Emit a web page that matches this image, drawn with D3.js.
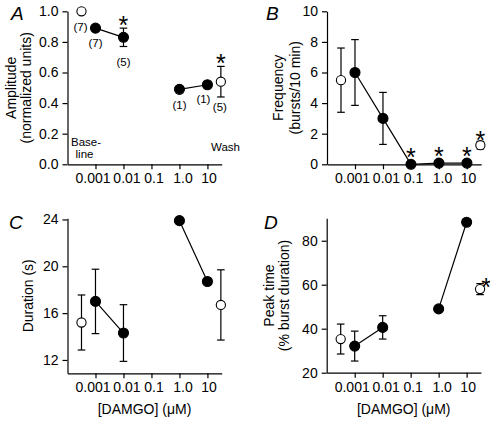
<!DOCTYPE html>
<html><head><meta charset="utf-8">
<script src="https://cdn.jsdelivr.net/npm/d3@7"></script>
<style>
body{margin:0;background:#fff}
text{font-family:"Liberation Sans",Arial,sans-serif;fill:#000}
</style>
</head><body>
<svg id="c" width="490" height="421"></svg>
<script>
// ---- shared x data ----
const drugConc = [0.001, 0.01, 0.1, 1, 10];
const tickLabels = ["0.001", "0.01", "0.1", "1.0", "10"];
const baselineConc = Math.pow(10, -3.5);
const washConc = Math.pow(10, 1.48);

// ---- A: amplitude ----
const ampBase = 1.0, ampBaseErr = 0, ampBaseN = "(7)";
const ampDrug = [0.89, 0.83, null, 0.49, 0.52];
const ampDrugErr = [0, 0.06, 0, 0, 0];
const ampDrugN = ["(7)", "(5)", null, "(1)", "(1)"];
const ampDrugSig = [false, true, false, false, false];
const ampWash = 0.54, ampWashErr = 0.10, ampWashN = "(5)", ampWashSig = true;
const ampTicks = [0, 0.2, 0.4, 0.6, 0.8, 1.0];

// ---- B: frequency ----
const freqBase = 5.5, freqBaseErr = 2.1;
const freqDrug = [6.0, 3.0, 0, 0.08, 0.08];
const freqDrugErr = [2.15, 1.7, 0, 0, 0];
const freqDrugSig = [false, false, true, true, true];
const freqWash = 1.25, freqWashErr = 0.25, freqWashSig = true;
const freqTicks = [0, 2, 4, 6, 8, 10];

// ---- C: duration ----
const durBase = 15.2, durBaseErr = 2.35;
const durDrug = [17.0, 14.3, null, 23.9, 18.7];
const durDrugErr = [2.75, 2.42, 0, 0, 0];
const durWash = 16.7, durWashErr = 3.0;
const durTicks = [12, 16, 20, 24];

// ---- D: peak time ----
const peakBase = 35.3, peakBaseErr = 6.8;
const peakDrug = [32.1, 40.6, null, 49.0, 88.4];
const peakDrugErr = [6.8, 5.3, 0, 0, 0];
const peakWash = 58.0, peakWashErr = 2.5, peakWashSig = true;
const peakTicks = [20, 40, 60, 80];

const svg = d3.select("#c");
const labelShift = [-3, 3, 2, 3, 1];

function panel(o) {
  const g = svg.append("g");
  const x = d3.scaleLog().domain([1e-4, Math.pow(10, 1.51)]).range([o.x0, o.x0 + 154.2]);
  const y = d3.scaleLinear().domain(o.yDomain).range([o.yBottom, o.yTop]);

  const ya = g.append("g").attr("transform", `translate(${o.x0},0)`)
    .call(d3.axisLeft(y).tickValues(o.yTicks).tickFormat(o.yFmt).tickSize(5).tickPadding(4).tickSizeOuter(0));
  const xa = g.append("g").attr("transform", `translate(0,${o.yBottom})`)
    .call(d3.axisBottom(x).tickValues(drugConc).tickFormat((d, i) => tickLabels[i]).tickSize(5).tickPadding(4).tickSizeOuter(0));
  [ya, xa].forEach(a => {
    a.selectAll("path,line").attr("stroke", "#000").attr("stroke-width", 1.2);
    a.selectAll("text").attr("font-size", 14).attr("fill", "#000");
    a.attr("font-family", null);
  });
  xa.selectAll(".tick text").attr("dx", (d, i) => labelShift[i]);

  const tcx = (o.yBottom + o.yTop) / 2;
  o.yTitle.forEach((t, i) => {
    g.append("text").attr("transform", `translate(${o.titleX[i]},${tcx}) rotate(-90)`)
      .attr("text-anchor", "middle").attr("font-size", 14).text(t);
  });
  if (o.xTitle) {
    g.append("text").attr("x", o.x0 + 77).attr("y", o.yBottom + 41)
      .attr("text-anchor", "middle").attr("font-size", 14).text(o.xTitle);
  }
  g.append("text").attr("x", o.letterX).attr("y", o.letterY)
    .attr("font-size", 19).attr("font-style", "italic").text(o.letter);

  const pts = drugConc.map((c, i) => ({c, v: o.drug[i], e: o.drugErr[i]}));
  g.append("path").datum(pts)
    .attr("d", d3.line().defined(d => d.v !== null).x(d => x(d.c)).y(d => y(d.v)))
    .attr("fill", "none").attr("stroke", "#000").attr("stroke-width", 1.2);

  const all = [{c: baselineConc, v: o.base, e: o.baseErr, open: true}]
    .concat(pts.filter(d => d.v !== null))
    .concat([{c: washConc, v: o.wash, e: o.washErr, open: true}]);

  all.filter(d => d.e > 0).forEach(d => {
    const cx = x(d.c);
    g.append("line").attr("x1", cx).attr("x2", cx).attr("y1", y(d.v - d.e)).attr("y2", y(d.v + d.e))
      .attr("stroke", "#000").attr("stroke-width", 1.2);
    [d.v - d.e, d.v + d.e].forEach(v => g.append("line").attr("x1", cx - 3.8).attr("x2", cx + 3.8)
      .attr("y1", y(v)).attr("y2", y(v)).attr("stroke", "#000").attr("stroke-width", 1.2));
  });
  all.forEach(d => {
    g.append("circle").attr("cx", x(d.c)).attr("cy", y(d.v)).attr("r", d.open ? 4.6 : 5)
      .attr("fill", d.open ? "#fff" : "#000").attr("stroke", "#000").attr("stroke-width", 1.1);
  });
  return {g, x, y};
}

function star(g, cx, cy) {
  g.append("text").attr("x", cx).attr("y", cy + 14.5).attr("text-anchor", "middle")
    .attr("font-size", 25).attr("font-family", "DejaVu Sans").text("*");
}
function note(g, cx, cy, t) {
  g.append("text").attr("x", cx).attr("y", cy + 4.2).attr("text-anchor", "middle")
    .attr("font-size", 11.5).text(t);
}

// Panel A
const A = panel({x0: 67.5, yDomain: [0, 1], yBottom: 164.3, yTop: 11.3, yTicks: ampTicks, yFmt: d3.format(".1f"),
  yTitle: ["Amplitude", "(normalized units)"], titleX: [16, 31], letter: "A", letterX: 11, letterY: 20,
  drug: ampDrug, drugErr: ampDrugErr, base: ampBase, baseErr: ampBaseErr, wash: ampWash, washErr: ampWashErr});
note(A.g, A.x(baselineConc) - 1, A.y(ampBase) + 15, ampBaseN);
drugConc.forEach((c, i) => {
  if (ampDrugN[i]) {
    const dy = ampDrug[i] - ampDrugErr[i];
    const off = (i === 4) ? -4 : 0;
    note(A.g, A.x(c) + off, A.y(dy) + (i === 4 ? 14 : 15), ampDrugN[i]);
  }
  if (ampDrugSig[i]) star(A.g, A.x(c), A.y(ampDrug[i] + ampDrugErr[i]) - 9);
});
note(A.g, A.x(washConc) - 1, A.y(ampWash - ampWashErr) + 10, ampWashN);
if (ampWashSig) star(A.g, A.x(washConc), A.y(ampWash + ampWashErr) - 9);
A.g.append("text").attr("x", 71).attr("y", 146).attr("font-size", 11.5).text("Base-");
A.g.append("text").attr("x", 84.5).attr("y", 158).attr("text-anchor", "middle").attr("font-size", 11.5).text("line");
A.g.append("text").attr("x", 225.5).attr("y", 151).attr("text-anchor", "middle").attr("font-size", 11.5).text("Wash");

// Panel B
const B = panel({x0: 327, yDomain: [0, 10], yBottom: 164.3, yTop: 11.3, yTicks: freqTicks, yFmt: d3.format("d"),
  yTitle: ["Frequency", "(bursts/10 min)"], titleX: [283, 300], letter: "B", letterX: 266, letterY: 20,
  drug: freqDrug, drugErr: freqDrugErr, base: freqBase, baseErr: freqBaseErr, wash: freqWash, washErr: freqWashErr});
drugConc.forEach((c, i) => { if (freqDrugSig[i]) star(B.g, B.x(c), B.y(freqDrug[i]) - 13); });
if (freqWashSig) star(B.g, B.x(washConc), B.y(freqWash) - 11);

// Panel C
const C = panel({x0: 67.5, yDomain: [10.86, 24.1], yBottom: 373.3, yTop: 218.3, yTicks: durTicks, yFmt: d3.format("d"),
  yTitle: ["Duration (s)"], titleX: [33], letter: "C", letterX: 9, letterY: 229, xTitle: "[DAMGO] (\u03bcM)",
  drug: durDrug, drugErr: durDrugErr, base: durBase, baseErr: durBaseErr, wash: durWash, washErr: durWashErr});

// Panel D
const D = panel({x0: 326.7, yDomain: [20, 90.2], yBottom: 372.7, yTop: 218.3, yTicks: peakTicks, yFmt: d3.format("d"),
  yTitle: ["Peak time", "(% burst duration)"], titleX: [274, 289], letter: "D", letterX: 264, letterY: 229, xTitle: "[DAMGO] (\u03bcM)",
  drug: peakDrug, drugErr: peakDrugErr, base: peakBase, baseErr: peakBaseErr, wash: peakWash, washErr: peakWashErr});
if (peakWashSig) star(D.g, D.x(washConc) + 6, D.y(peakWash) - 8);
</script>
</body></html>
